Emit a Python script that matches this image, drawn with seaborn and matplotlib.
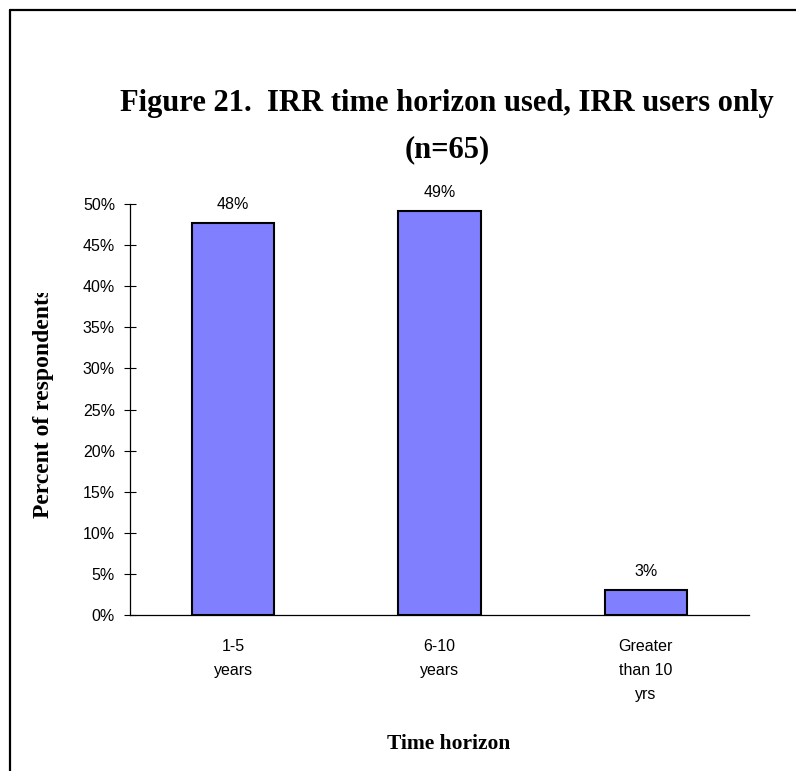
import matplotlib
matplotlib.use("Agg")
import matplotlib.pyplot as plt
from matplotlib.lines import Line2D
from matplotlib.transforms import Bbox, TransformedBbox
import seaborn as sns
import pandas as pd

# Survey results: IRR time horizon, IRR users only (n=65)
categories = ["1-5\nyears", "6-10\nyears", "Greater\nthan 10\nyrs"]
shares = [0.477, 0.492, 0.031]
value_labels = ["48%", "49%", "3%"]
y_ticks = [0.0, 0.05, 0.10, 0.15, 0.20, 0.25, 0.30, 0.35, 0.40, 0.45, 0.50]
y_tick_labels = ["0%", "5%", "10%", "15%", "20%", "25%", "30%", "35%", "40%", "45%", "50%"]

df = pd.DataFrame({"horizon": categories, "share": shares})

sns.set_theme(style="white")
plt.rcParams["font.family"] = ["Liberation Sans", "DejaVu Sans"]
plt.rcParams["text.color"] = "black"
plt.rcParams["xtick.color"] = "black"
plt.rcParams["ytick.color"] = "black"
plt.rcParams["axes.labelcolor"] = "black"

W, H = 796, 771
fig = plt.figure(figsize=(W / 100, H / 100), dpi=100)
ax = fig.add_axes([130 / W, 1 - 615 / H, (749 - 130) / W, (615 - 204) / H])

sns.barplot(data=df, x="horizon", y="share", ax=ax, color="#8080FF",
            saturation=1, width=0.4, edgecolor="black", linewidth=1.5)

ax.set_xlim(-0.5, len(categories) - 0.5)
ax.set_ylim(0, 0.5)
ax.set_yticks(y_ticks)
ax.set_yticklabels(y_tick_labels, fontsize=11.5)

# category labels sit between the boundary tick marks
ax.tick_params(axis="x", which="major", length=0, pad=17, labelsize=11.5)
ax.set_xticks(range(len(categories)))
ax.set_xticklabels(categories, linespacing=1.75)
ax.set_xticks([i - 0.5 for i in range(len(categories) + 1)], minor=True)
ax.tick_params(axis="x", which="minor", direction="inout", length=9, width=0.8,
               color="black")
ax.tick_params(axis="y", which="major", direction="inout", length=8.6, width=0.8,
               color="black", pad=6.5, left=True)

for side in ("top", "right"):
    ax.spines[side].set_visible(False)
for side in ("left", "bottom"):
    ax.spines[side].set_color("black")
    ax.spines[side].set_linewidth(0.9)

for patch, lab in zip(ax.patches, value_labels):
    ax.annotate(lab, (patch.get_x() + patch.get_width() / 2, patch.get_height()),
                xytext=(0, 10), textcoords="offset points",
                ha="center", va="baseline", fontsize=11.5, color="black")

ax.set_xlabel("")
ax.set_ylabel("")

serif = ["Liberation Serif", "DejaVu Serif"]
fig.text(447 / W, 1 - 104 / H, "Figure 21.  IRR time horizon used, IRR users only",
         ha="center", va="center", fontsize=22, fontweight="bold", family=serif,
         color="black")
fig.text(447 / W, 1 - 150 / H, "(n=65)",
         ha="center", va="center", fontsize=22, fontweight="bold", family=serif,
         color="black")
fig.text(449 / W, 1 - 744 / H, "Time horizon",
         ha="center", va="center", fontsize=15.5, fontweight="bold", family=serif,
         color="black")

ylab = fig.text(44 / W, 1 - 403 / H, "Percent of respondents", rotation=90,
                ha="center", va="center", fontsize=17, fontweight="bold",
                family=serif, color="black")
ylab.set_clip_on(True)
ylab.set_clip_box(TransformedBbox(Bbox.from_extents(0, 0, 1, 1 - 293 / H),
                                  fig.transFigure))

# outer frame (left and top edges)
fig.add_artist(Line2D([9.5 / W, 9.5 / W], [0, 1 - 9.5 / H], color="black",
                      linewidth=1.6, transform=fig.transFigure))
fig.add_artist(Line2D([9.5 / W, 1], [1 - 9.5 / H, 1 - 9.5 / H], color="black",
                      linewidth=1.6, transform=fig.transFigure))

fig.savefig("out.png", dpi=100)
